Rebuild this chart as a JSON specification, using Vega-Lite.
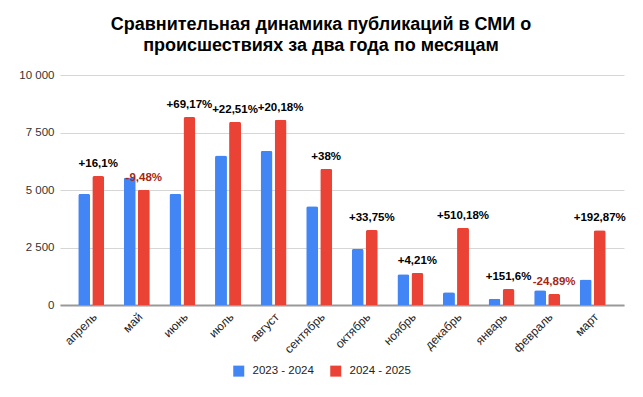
{
  "$schema": "https://vega.github.io/schema/vega-lite/v6.json",
  "width": 564,
  "height": 230,
  "autosize": {"type": "none"},
  "padding": {"left": 60, "top": 75, "right": 19, "bottom": 92},
  "background": "white",
  "title": {
    "text": ["Сравнительная динамика публикаций в СМИ о", "происшествиях за два года по месяцам"],
    "fontSize": 18,
    "fontWeight": "bold",
    "font": "Liberation Sans",
    "color": "#000000",
    "anchor": "middle",
    "lineHeight": 21,
    "offset": 14,
    "dx": -21
  },
  "datasets": {
    "bars": [
      {"month": "апрель", "year": "2023 - 2024", "value": 4830},
      {"month": "апрель", "year": "2024 - 2025", "value": 5608},
      {"month": "май", "year": "2023 - 2024", "value": 5540},
      {"month": "май", "year": "2024 - 2025", "value": 5015},
      {"month": "июнь", "year": "2023 - 2024", "value": 4830},
      {"month": "июнь", "year": "2024 - 2025", "value": 8171},
      {"month": "июль", "year": "2023 - 2024", "value": 6500},
      {"month": "июль", "year": "2024 - 2025", "value": 7963},
      {"month": "август", "year": "2023 - 2024", "value": 6700},
      {"month": "август", "year": "2024 - 2025", "value": 8052},
      {"month": "сентябрь", "year": "2023 - 2024", "value": 4290},
      {"month": "сентябрь", "year": "2024 - 2025", "value": 5920},
      {"month": "октябрь", "year": "2023 - 2024", "value": 2440},
      {"month": "октябрь", "year": "2024 - 2025", "value": 3263},
      {"month": "ноябрь", "year": "2023 - 2024", "value": 1340},
      {"month": "ноябрь", "year": "2024 - 2025", "value": 1396},
      {"month": "декабрь", "year": "2023 - 2024", "value": 550},
      {"month": "декабрь", "year": "2024 - 2025", "value": 3356},
      {"month": "январь", "year": "2023 - 2024", "value": 275},
      {"month": "январь", "year": "2024 - 2025", "value": 692},
      {"month": "февраль", "year": "2023 - 2024", "value": 640},
      {"month": "февраль", "year": "2024 - 2025", "value": 481},
      {"month": "март", "year": "2023 - 2024", "value": 1110},
      {"month": "март", "year": "2024 - 2025", "value": 3251}
    ],
    "labels": [
      {"month": "апрель", "value": 5608, "label": "+16,1%", "sign": "pos"},
      {"month": "май", "value": 5015, "label": "-9,48%", "sign": "neg"},
      {"month": "июнь", "value": 8171, "label": "+69,17%", "sign": "pos"},
      {"month": "июль", "value": 7963, "label": "+22,51%", "sign": "pos"},
      {"month": "август", "value": 8052, "label": "+20,18%", "sign": "pos"},
      {"month": "сентябрь", "value": 5920, "label": "+38%", "sign": "pos"},
      {"month": "октябрь", "value": 3263, "label": "+33,75%", "sign": "pos"},
      {"month": "ноябрь", "value": 1396, "label": "+4,21%", "sign": "pos"},
      {"month": "декабрь", "value": 3356, "label": "+510,18%", "sign": "pos"},
      {"month": "январь", "value": 692, "label": "+151,6%", "sign": "pos"},
      {"month": "февраль", "value": 481, "label": "-24,89%", "sign": "neg"},
      {"month": "март", "value": 3251, "label": "+192,87%", "sign": "pos"}
    ]
  },
  "layer": [
    {
      "data": {"name": "bars"},
      "mark": {"type": "bar", "cornerRadiusTopLeft": 2, "cornerRadiusTopRight": 2},
      "encoding": {
        "x": {
          "field": "month", "type": "nominal", "sort": null,
          "scale": {"paddingInner": 0.43, "paddingOuter": 0.4},
          "axis": {
            "title": null, "labelAngle": -45, "labelFontSize": 12, "labelColor": "#222222",
            "ticks": false, "labelPadding": 6, "domainColor": "#999999", "domainWidth": 2
          }
        },
        "xOffset": {"field": "year", "type": "nominal", "scale": {"paddingInner": 0.15, "paddingOuter": 0}},
        "y": {
          "field": "value", "type": "quantitative",
          "scale": {"domain": [0, 10000], "nice": false},
          "axis": {
            "title": null, "values": [0, 2500, 5000, 7500, 10000], "domain": false, "ticks": false,
            "gridColor": "#d6d6d6", "labelPadding": 6, "labelFontSize": 11.5, "labelColor": "#333333",
            "labelExpr": "replace(format(datum.value, ','), ',', ' ')"
          }
        },
        "color": {
          "field": "year", "type": "nominal",
          "scale": {"domain": ["2023 - 2024", "2024 - 2025"], "range": ["#4285F4", "#EA4335"]},
          "legend": {
            "title": null, "orient": "none", "direction": "horizontal",
            "legendX": 173, "legendY": 290,
            "symbolType": "square", "symbolSize": 121, "symbolStrokeWidth": 0, "symbolOpacity": 1,
            "labelFontSize": 11.5, "labelColor": "#222222", "columnPadding": 16, "labelOffset": 8
          }
        }
      }
    },
    {
      "data": {"name": "labels"},
      "mark": {"type": "text", "fontWeight": "bold", "fontSize": 11.5, "dx": 7, "dy": -12, "baseline": "middle"},
      "encoding": {
        "x": {"field": "month", "type": "nominal", "sort": null},
        "y": {"field": "value", "type": "quantitative"},
        "text": {"field": "label"},
        "color": {
          "condition": {"test": "datum.sign === 'neg'", "value": "#A52714"},
          "value": "#000000"
        }
      }
    }
  ],
  "config": {
    "font": "Liberation Sans",
    "view": {"stroke": null},
    "axis": {"labelFont": "Liberation Sans"},
    "legend": {"labelFont": "Liberation Sans"}
  }
}
